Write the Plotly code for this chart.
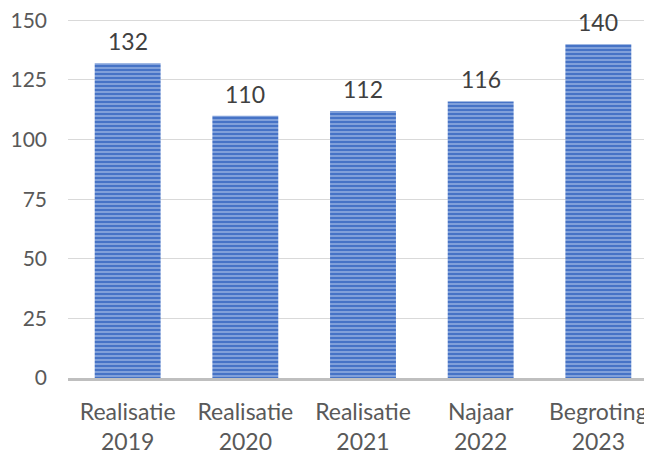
import plotly.graph_objects as go

categories = ["Realisatie<br>2019", "Realisatie<br>2020", "Realisatie<br>2021", "Najaar<br>2022", "Begroting<br>2023"]
values = [132, 110, 112, 116, 140]
y_ticks = [0, 25, 50, 75, 100, 125, 150]

fig = go.Figure(go.Bar(
    x=categories, y=values,
    cliponaxis=False,
    marker=dict(
        color="#4a78c8",
        line=dict(width=0),
        pattern=dict(shape="-", size=4, solidity=0.45,
                     fgcolor="#c9d8f2", bgcolor="#4673c6", fillmode="overlay"),
    ),
))

# value labels above the bars
for c, v in zip(categories, values):
    fig.add_annotation(x=c, y=v, text=str(v), showarrow=False, yanchor="bottom",
                       yshift=6, font=dict(size=23, color="#404040"))

# page body has an 8px margin, so the figure is a bit smaller than the window
fig.update_layout(
    width=644, height=448,
    margin=dict(l=60, r=0, t=10, b=78),
    plot_bgcolor="white", paper_bgcolor="white",
    font=dict(family="Lato, Open Sans, sans-serif", size=18, color="#595959"),
    bargap=0.44,
    showlegend=False,
    xaxis=dict(showgrid=False, showline=True, linecolor="#bfbfbf", linewidth=3,
               range=[-0.507, 4.456], automargin=False,
               tickfont=dict(size=23, color="#595959"), ticks="", ticklabelstandoff=11),
    yaxis=dict(range=[0, 151], tickvals=y_ticks, showgrid=True, gridcolor="#d9d9d9",
               gridwidth=1, zeroline=False, showline=False, ticks="", automargin=False,
               ticklabelstandoff=20, ticklabeloverflow="allow",
               tickfont=dict(size=21, color="#595959")),
)

fig.write_html("out.html")
